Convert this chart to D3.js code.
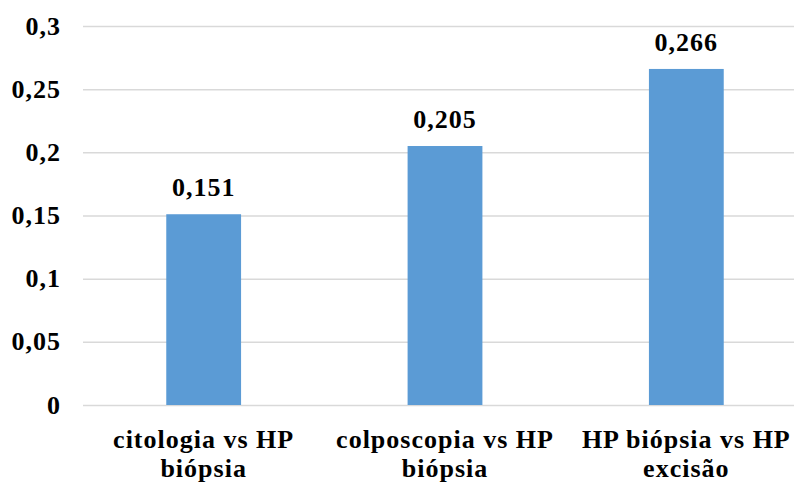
<!DOCTYPE html>
<html lang="en">
<head>
<meta charset="utf-8">
<title>Chart</title>
<script src="https://cdn.jsdelivr.net/npm/d3@7"></script>
<style>
  body { margin: 0; background: #fff; }
  text { font-family: "Liberation Serif", "Times New Roman", serif; font-weight: bold; fill: #000; letter-spacing: 1px; }
</style>
</head>
<body>
<script>
// data
var categories = [["citologia vs HP", "biópsia"], ["colposcopia vs HP", "biópsia"], ["HP biópsia vs HP", "excisão"]];
var values = [0.151, 0.205, 0.266];
var labels = ["0,151", "0,205", "0,266"];
var yTicks = [0, 0.05, 0.1, 0.15, 0.2, 0.25, 0.3];
var yTickLabels = ["0", "0,05", "0,1", "0,15", "0,2", "0,25", "0,3"];

var w = 794, h = 483;
var mLeft = 83, mRight = 807, mTop = 26, mBottom = 405;
var fs = 26;

var svg = d3.select("body").append("svg")
    .attr("width", w)
    .attr("height", h);

var x = d3.scaleBand()
    .domain(d3.range(categories.length))
    .range([mLeft, mRight])
    .paddingInner(0.69)
    .paddingOuter(0.345);

var y = d3.scaleLinear()
    .domain([0, 0.3])
    .range([mBottom, mTop]);

// gridlines
svg.selectAll("line.grid")
    .data(yTicks)
    .enter()
    .append("line")
    .attr("class", "grid")
    .attr("x1", mLeft)
    .attr("x2", w)
    .attr("y1", function(d) { return y(d) + 0.5; })
    .attr("y2", function(d) { return y(d) + 0.5; })
    .attr("stroke", "#d9d9d9")
    .attr("stroke-width", 1.5);

// y tick labels
svg.selectAll("text.ytick")
    .data(yTicks)
    .enter()
    .append("text")
    .attr("class", "ytick")
    .attr("x", 61)
    .attr("y", function(d) { return y(d); })
    .attr("dy", "0.33em")
    .attr("text-anchor", "end")
    .attr("font-size", fs)
    .text(function(d, i) { return yTickLabels[i]; });

// bars
svg.selectAll("rect")
    .data(values)
    .enter()
    .append("rect")
    .attr("x", function(d, i) { return x(i); })
    .attr("y", function(d) { return y(d); })
    .attr("width", x.bandwidth())
    .attr("height", function(d) { return y(0) - y(d); })
    .attr("fill", "#5b9bd5");

// value labels
svg.selectAll("text.val")
    .data(values)
    .enter()
    .append("text")
    .attr("class", "val")
    .attr("x", function(d, i) { return x(i) + x.bandwidth() / 2; })
    .attr("y", function(d) { return y(d) - 18; })
    .attr("text-anchor", "middle")
    .attr("font-size", fs)
    .text(function(d, i) { return labels[i]; });

// category labels (two lines)
var cat = svg.selectAll("text.cat")
    .data(categories)
    .enter()
    .append("text")
    .attr("class", "cat")
    .attr("text-anchor", "middle")
    .attr("font-size", fs);

cat.selectAll("tspan")
    .data(function(d, i) { return d.map(function(s) { return { s: s, i: i }; }); })
    .enter()
    .append("tspan")
    .attr("x", function(d) { return x(d.i) + x.bandwidth() / 2; })
    .attr("y", function(d, j) { return 448 + j * 29; })
    .text(function(d) { return d.s; });
</script>
</body>
</html>
